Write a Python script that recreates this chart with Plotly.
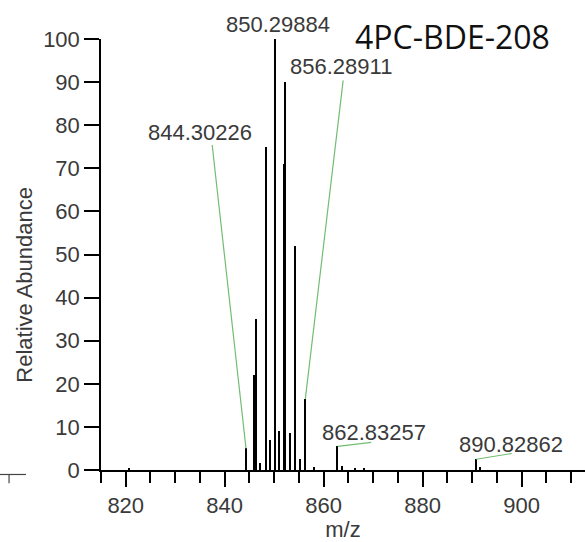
import plotly.graph_objects as go

# ---- data ----
mz = [820.7, 844.30226, 845.9, 846.3, 847.2, 848.3, 849.2, 850.29884, 851.1,
      852.0, 852.3, 853.2, 854.3, 855.2, 856.28911, 858.1, 862.83257, 863.8,
      866.3, 868.1, 890.82862, 891.6]
abundance = [0.4, 5, 22, 35, 1.6, 75, 7, 100, 9, 71, 90, 8.5, 52, 2.5, 16.5,
             0.8, 5.5, 1.0, 0.5, 0.5, 2.5, 0.8]

labeled_mz = [850.29884, 856.28911, 844.30226, 862.83257, 890.82862]
labeled_text = ["850.29884", "856.28911", "844.30226", "862.83257", "890.82862"]
x_ticks = [820, 840, 860, 880, 900]
y_ticks = [0, 10, 20, 30, 40, 50, 60, 70, 80, 90, 100]
title_text = "4PC-BDE-208"

# ---- style / layout (pixel offsets for labels and leader lines) ----
label_shift = {  # (xshift, yshift) of label centre from peak top
    850.29884: (2, 15),
    856.28911: (36, 332),
    844.30226: (-46, 316),
    862.83257: (36, 14),
    890.82862: (35, 15),
}
leader = {  # (ax, ay) tail of green leader line from peak top
    856.28911: (38, -320),
    844.30226: (-34, -305),
    862.83257: (35, -4),
    890.82862: (37, -6),
}

FONT = "Liberation Sans, Arial, sans-serif"
TXT = "#3a3a3a"
FS = 22

fig = go.Figure()
fig.add_trace(go.Bar(x=mz, y=abundance, width=0.3,
                     marker=dict(color="black", line=dict(width=0)),
                     showlegend=False))

peak_h = dict(zip(mz, abundance))
anns = []
for m, t in zip(labeled_mz, labeled_text):
    h = peak_h[m]
    if m in leader:
        ax, ay = leader[m]
        anns.append(dict(x=m, y=h, xref="x", yref="y", text="", showarrow=True,
                         arrowhead=0, arrowwidth=1.2, arrowcolor="#72bd72",
                         ax=ax, ay=ay, standoff=0, startstandoff=0))
    xs, ys = label_shift[m]
    anns.append(dict(x=m, y=h, xref="x", yref="y", text=t, showarrow=False,
                     xshift=xs, yshift=ys, xanchor="center", yanchor="middle",
                     font=dict(family=FONT, size=FS, color=TXT)))

# title
anns.append(dict(x=0.727, y=1.006, xref="paper", yref="paper", text=title_text,
                 showarrow=False, xanchor="center", yanchor="middle",
                 font=dict(family="Open Sans, sans-serif", size=32, color="#111111")))
# y-axis title
anns.append(dict(x=-0.157, y=0.43, xref="paper", yref="paper",
                 text="Relative Abundance", textangle=-90, showarrow=False,
                 xanchor="center", yanchor="middle",
                 font=dict(family=FONT, size=FS, color=TXT)))

shapes = [
    dict(type="line", xref="paper", yref="paper", x0=-0.209, x1=-0.155,
         y0=-0.0104, y1=-0.0104, line=dict(color="#444", width=1.2)),
    dict(type="line", xref="paper", yref="paper", x0=-0.190, x1=-0.190,
         y0=-0.0104, y1=-0.031, line=dict(color="#444", width=1.2)),
]

fig.update_layout(
    width=585, height=542,
    margin=dict(l=101, r=0, t=39, b=72, pad=0),
    plot_bgcolor="white", paper_bgcolor="white",
    bargap=0,
    annotations=anns, shapes=shapes,
    font=dict(family=FONT, size=FS, color=TXT),
)
fig.update_xaxes(range=[815, 912.8], tickvals=x_ticks, ticktext=[str(v) for v in x_ticks],
                 showline=True, linecolor="black", linewidth=1.5,
                 ticks="outside", ticklen=15, tickwidth=1.5, tickcolor="black",
                 minor=dict(tick0=815, dtick=5, ticks="outside", ticklen=11,
                            tickwidth=1.5, tickcolor="black", showgrid=False),
                 showgrid=False, zeroline=False,
                 tickfont=dict(family=FONT, size=FS, color=TXT),
                 title=dict(text="m/z", standoff=4,
                            font=dict(family=FONT, size=FS, color=TXT)))
fig.update_yaxes(range=[0, 100], tickvals=y_ticks,
                 showline=True, linecolor="black", linewidth=1.5,
                 ticks="outside", ticklen=15, tickwidth=1.5, tickcolor="black",
                 showgrid=False, zeroline=False,
                 tickfont=dict(family=FONT, size=FS, color=TXT))

fig.write_html("out.html")
